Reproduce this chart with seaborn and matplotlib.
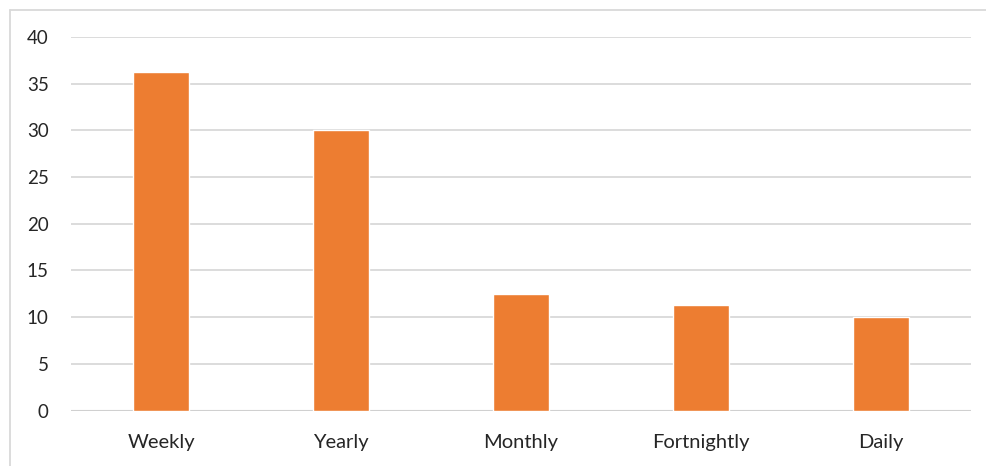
import matplotlib
matplotlib.use("Agg")
import matplotlib.pyplot as plt
from matplotlib.lines import Line2D
import seaborn as sns
import pandas as pd

categories = ["Weekly", "Yearly", "Monthly", "Fortnightly", "Daily"]
values = [36.3, 30.0, 12.5, 11.3, 10.0]
y_ticks = [0, 5, 10, 15, 20, 25, 30, 35, 40]

df = pd.DataFrame({"category": categories, "value": values})

sns.set_theme(style="white")
plt.rcParams["font.family"] = ["Lato", "DejaVu Sans"]

fig = plt.figure(figsize=(9.87, 4.66), dpi=100)
ax = fig.add_axes([71 / 987, 1 - 410.5 / 466, 900 / 987, (410.5 - 37) / 466])

sns.barplot(data=df, x="category", y="value", color="#ED7D31", saturation=1,
            width=0.31, ax=ax, zorder=3)

ax.set_ylim(0, 40)
ax.set_xlim(-0.5, len(categories) - 0.5)
ax.set_yticks(y_ticks)
ax.set_yticklabels([str(v) for v in y_ticks])
ax.yaxis.grid(True, color="#d9d9d9", linewidth=1.3, zorder=0)
ax.set_axisbelow(True)
for s in ax.spines.values():
    s.set_visible(False)
ax.axhline(0, color="#d0d0d0", linewidth=1.5, zorder=2)
ax.tick_params(axis="y", length=0, pad=16, labelsize=13.5, labelcolor="#262626")
ax.tick_params(axis="x", length=0, pad=17, labelsize=14.5, labelcolor="#262626")
ax.set_xlabel("")
ax.set_ylabel("")

# light outer frame along the top and left edges
fig.add_artist(Line2D([10 / 987, 1.0], [1 - 9.5 / 466, 1 - 9.5 / 466],
                      transform=fig.transFigure, color="#d9d9d9", linewidth=1.3))
fig.add_artist(Line2D([10 / 987, 10 / 987], [0, 1 - 9.5 / 466],
                      transform=fig.transFigure, color="#d9d9d9", linewidth=1.3))

fig.savefig("out.png", dpi=100)
